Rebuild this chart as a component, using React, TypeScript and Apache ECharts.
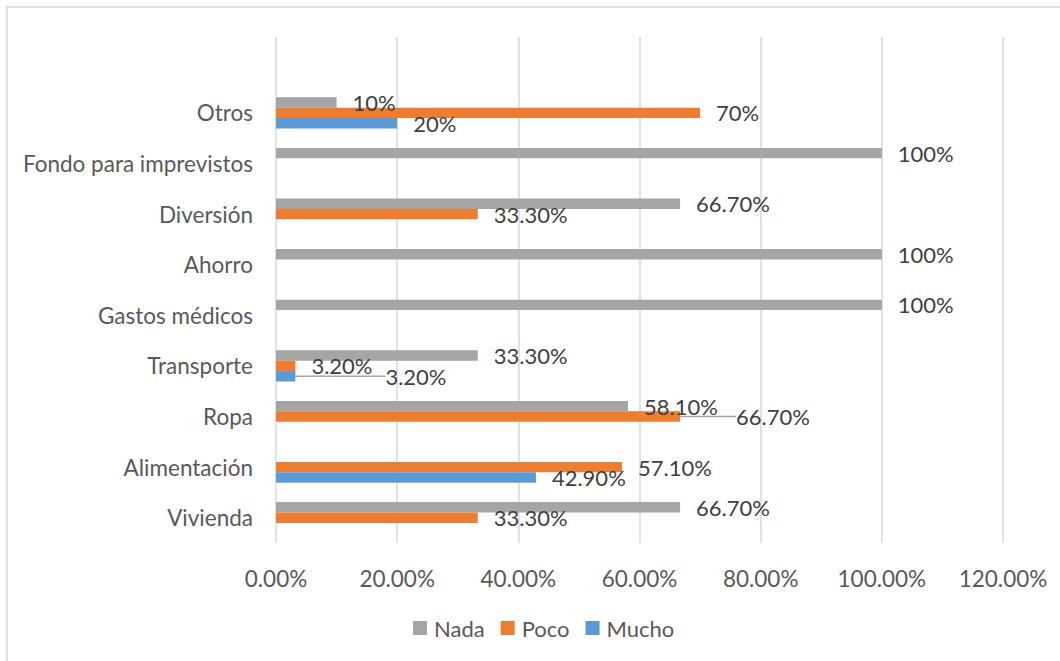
import React, { useEffect, useRef } from "react";
import * as echarts from "echarts";

const categories = [
  "Vivienda",
  "Alimentación",
  "Ropa",
  "Transporte",
  "Gastos médicos",
  "Ahorro",
  "Diversión",
  "Fondo para imprevistos",
  "Otros",
  "",
];

const nadaValues = [66.7, null, 58.1, 33.3, 100, 100, 66.7, 100, 10, null];
const pocoValues = [33.3, 57.1, 66.7, 3.2, null, null, 33.3, null, 70, null];
const muchoValues = [null, 42.9, null, 3.2, null, null, null, null, 20, null];

const nadaLabels = ["66.70%", "", "58.10%", "33.30%", "100%", "100%", "66.70%", "100%", "10%", ""];
const pocoLabels = ["33.30%", "57.10%", "66.70%", "3.20%", "", "", "33.30%", "", "70%", ""];
const muchoLabels = ["", "42.90%", "", "3.20%", "", "", "", "", "20%", ""];

const xTicks = [0, 20, 40, 60, 80, 100, 120];

const FONT = "Lato";

export default function App() {
  const ref = useRef<HTMLDivElement>(null);

  useEffect(() => {
    if (!ref.current) return;
    const chart = echarts.init(ref.current, undefined, { renderer: "svg" });

    const mkSeries = (
      name: string,
      values: (number | null)[],
      labels: string[],
      color: string,
      shifts: Record<number, number>
    ) => ({
      name,
      type: "bar",
      data: values.map((v, i) =>
        shifts[i]
          ? { value: v, labelLine: { show: true, lineStyle: { color: "#a6a6a6", width: 1.5 } } }
          : { value: v }
      ),
      barWidth: 10.4,
      barGap: "0%",
      itemStyle: { color },
      label: {
        show: true,
        position: "right",
        distance: 16,
        offset: [0, 2],
        color: "#404040",
        fontFamily: FONT,
        fontSize: 22,
        formatter: (p: any) => labels[p.dataIndex] || "",
      },
      labelLine: { show: false },
      labelLayout: (p: any) => {
        const dx = shifts[p.dataIndex];
        return dx ? { dx, dy: 0 } : {};
      },
    });

    chart.setOption({
      animation: false,
      backgroundColor: "#ffffff",
      textStyle: { fontFamily: FONT },
      graphic: [
        {
          type: "rect",
          shape: { x: 7, y: 7, width: 1100, height: 700 },
          style: { fill: "none", stroke: "#d9d9d9", lineWidth: 1.5 },
          silent: true,
        },
      ],
      grid: { left: 276, right: 57, top: 37, bottom: 118 },
      legend: {
        bottom: 17,
        left: 408,
        itemWidth: 14,
        itemHeight: 14,
        itemGap: 16,
        icon: "rect",
        textStyle: { color: "#595959", fontSize: 22, fontFamily: FONT, padding: [0, 0, 0, 2] },
        data: ["Nada", "Poco", "Mucho"],
      },
      xAxis: {
        type: "value",
        min: 0,
        max: 120,
        interval: 20,
        axisLine: { show: false },
        axisTick: { show: false },
        splitLine: { show: true, lineStyle: { color: "#d9d9d9", width: 1.5 } },
        axisLabel: {
          color: "#595959",
          fontSize: 22.5,
          fontFamily: FONT,
          margin: 24,
          formatter: (v: number) => (xTicks.includes(v) ? `${v.toFixed(2)}%` : ""),
        },
      },
      yAxis: {
        type: "category",
        data: categories,
        axisLine: { show: false },
        axisTick: { show: false },
        splitLine: { show: false },
        axisLabel: {
          color: "#595959",
          fontSize: 22.5,
          fontFamily: FONT,
          margin: 23,
        },
      },
      series: [
        mkSeries("Nada", nadaValues, nadaLabels, "#a5a5a5", {}),
        mkSeries("Poco", pocoValues, pocoLabels, "#ed7d31", { 2: 40 }),
        mkSeries("Mucho", muchoValues, muchoLabels, "#5b9bd5", { 3: 74 }),
      ],
    });

    return () => chart.dispose();
  }, []);

  return (
    <div
      ref={ref}
      style={{ position: "fixed", left: 0, top: 0, width: 1060, height: 661, background: "#fff" }}
    />
  );
}
